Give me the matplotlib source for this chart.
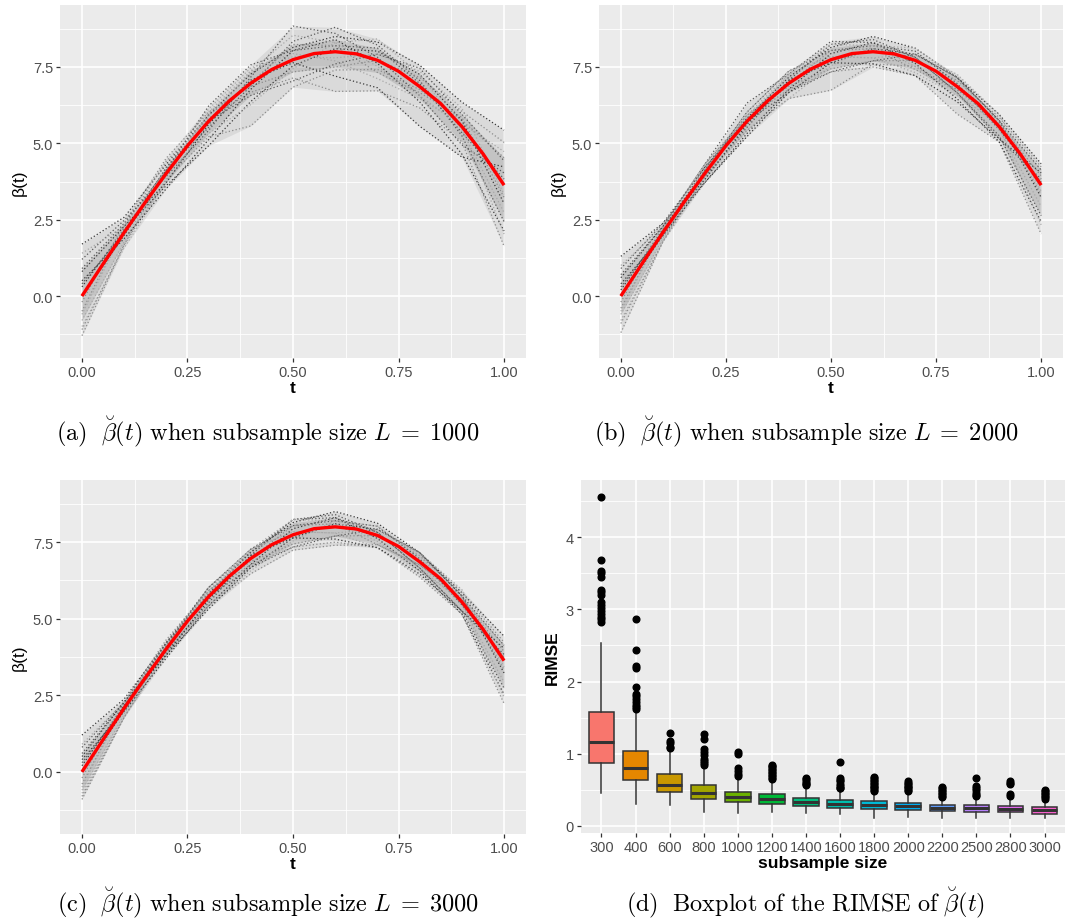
import numpy as np
import matplotlib
matplotlib.use("Agg")
import matplotlib.pyplot as plt
from matplotlib.ticker import FixedLocator

plt.rcParams['font.family'] = ['Liberation Sans', 'DejaVu Sans']
plt.rcParams['mathtext.fontset'] = 'cm'

# ---------------- data ----------------
t_fine = [0.00, 0.05, 0.10, 0.15, 0.20, 0.25, 0.30, 0.35, 0.40, 0.45, 0.50,
          0.55, 0.60, 0.65, 0.70, 0.75, 0.80, 0.85, 0.90, 0.95, 1.00]
beta_true = [0.00, 1.05, 2.08, 3.07, 4.02, 4.92, 5.72, 6.40, 6.97, 7.42, 7.74,
             7.94, 8.00, 7.93, 7.72, 7.36, 6.86, 6.30, 5.55, 4.66, 3.63]

t_coarse = [0.0, 0.1, 0.2, 0.3, 0.4, 0.5, 0.6, 0.7, 0.8, 0.9, 1.0]
beta_coarse = [0.00, 2.08, 4.02, 5.72, 6.97, 7.74, 8.00, 7.72, 6.86, 5.55, 3.63]

# deviations of the estimated curves from the true curve (read by eye)
dev_L1000 = [
    [ 1.7, 0.5, 0.3, 0.2, 0.3, 0.4, 0.5, 0.6, 0.7, 0.8, 1.8],
    [-1.3,-0.4,-0.2,-0.5,-1.4,-0.9,-0.6,-0.3,-0.1, 0.2, 0.9],
    [ 0.9, 0.3, 0.1,-0.2,-0.1, 0.6, 0.8, 0.5, 0.2,-0.3,-1.2],
    [-0.8,-0.3, 0.2, 0.4, 0.5, 0.2,-0.3,-0.6,-0.4, 0.1, 1.1],
    [ 0.3, 0.1,-0.4,-0.8,-0.6,-0.2, 0.1, 0.3, 0.4, 0.2,-0.6],
    [-0.5, 0.2, 0.4, 0.1,-0.3,-0.6,-1.3,-1.0,-0.7,-0.5,-2.0],
    [ 1.2, 0.4,-0.1,-0.3, 0.2, 1.1, 0.6, 0.1,-0.3,-0.6, 0.4],
    [-1.0,-0.5,-0.3, 0.0, 0.4, 0.1,-0.2, 0.2, 0.5, 0.6,-0.3],
    [ 0.5,-0.2,-0.5,-0.6,-0.2, 0.3, 0.4,-0.1,-0.5,-0.9,-1.5],
    [-0.2, 0.3, 0.5, 0.3,-0.1,-0.4,-0.5, 0.0, 0.3, 0.5, 1.4],
    [ 0.0,-0.1, 0.1, 0.5, 0.6, 0.3, 0.2, 0.4, 0.1,-0.2, 0.2],
    [-0.6, 0.1, 0.0,-0.4,-0.7,-0.3, 0.3, 0.7, 0.4,-0.1,-0.9],
    [ 0.8, 0.2,-0.3,-0.1, 0.1,-0.1,-0.8,-0.9,-1.3,-1.0, 0.6],
    [-1.1,-0.4, 0.1, 0.2, 0.0, 0.5, 0.2,-0.4,-0.2, 0.3,-0.4],
    [ 0.4, 0.0, 0.2, 0.0,-0.4,-0.7,-0.4, 0.2, 0.6, 0.4, 0.8],
    [ 1.4, 0.2,-0.1, 0.3, 0.4, 0.8, 0.3,-0.2,-0.3, 0.0,-1.6],
]
dev_L2000 = [
    [ 1.3, 0.3, 0.2, 0.1, 0.2, 0.4, 0.5, 0.4, 0.3, 0.4, 0.7],
    [-1.2,-0.3,-0.1,-0.3,-0.5,-1.0,-0.4,-0.2,-0.1, 0.1, 0.3],
    [ 0.7, 0.2, 0.3, 0.6, 0.3, 0.6, 0.3, 0.1,-0.2,-0.3,-1.0],
    [-0.6,-0.2, 0.1, 0.3, 0.4, 0.1,-0.2,-0.4,-0.3, 0.1, 0.5],
    [ 0.2, 0.1,-0.3,-0.5,-0.3,-0.1, 0.1, 0.2, 0.3, 0.2,-0.4],
    [-0.4, 0.1, 0.3, 0.1,-0.2,-0.4,-0.5,-0.5,-0.9,-0.5,-1.6],
    [ 0.9, 0.3,-0.1,-0.2, 0.1, 0.5, 0.4, 0.1,-0.2,-0.4, 0.2],
    [-0.8,-0.3,-0.2, 0.0, 0.3, 0.1,-0.2, 0.2, 0.4, 0.4,-0.2],
    [ 0.4,-0.1,-0.3,-0.4,-0.2, 0.2, 0.3,-0.1,-0.4,-0.5,-1.2],
    [-0.2, 0.2, 0.3, 0.2,-0.1,-0.3,-0.3, 0.0, 0.2, 0.3, 0.6],
    [ 0.0,-0.1, 0.1, 0.3, 0.4, 0.3, 0.2, 0.3, 0.1,-0.1, 0.1],
    [-0.5, 0.1, 0.0,-0.3,-0.5,-0.2, 0.2, 0.4, 0.3,-0.1,-0.7],
    [ 0.6, 0.2,-0.2,-0.1, 0.1,-0.1,-0.4,-0.5,-0.5,-0.4, 0.4],
    [-0.9,-0.3, 0.1, 0.2, 0.0, 0.3, 0.1,-0.3,-0.1, 0.2,-0.3],
    [ 0.3, 0.0, 0.2, 0.0,-0.3,-0.4,-0.3, 0.2, 0.3, 0.2, 0.5],
    [ 1.0, 0.2,-0.1, 0.2, 0.3, 0.5, 0.2,-0.2,-0.2, 0.0,-1.3],
]
dev_L3000 = [
    [ 1.2, 0.3, 0.2, 0.1, 0.2, 0.4, 0.5, 0.4, 0.3, 0.3, 0.8],
    [-0.9,-0.3,-0.1,-0.3,-0.5,-0.5,-0.6,-0.3,-0.1, 0.1, 0.3],
    [ 0.6, 0.2, 0.2, 0.3, 0.2, 0.5, 0.3, 0.1,-0.2,-0.3,-0.9],
    [-0.6,-0.2, 0.1, 0.3, 0.3, 0.1,-0.2,-0.4,-0.3, 0.1, 0.5],
    [ 0.2, 0.1,-0.2,-0.4,-0.3,-0.1, 0.1, 0.2, 0.3, 0.2,-0.4],
    [-0.4, 0.1, 0.2, 0.1,-0.2,-0.4,-0.5,-0.4,-0.5,-0.4,-1.4],
    [ 0.8, 0.2,-0.1,-0.2, 0.1, 0.5, 0.4, 0.1,-0.2,-0.3, 0.2],
    [-0.7,-0.3,-0.2, 0.0, 0.3, 0.1,-0.2, 0.2, 0.3, 0.4,-0.2],
    [ 0.4,-0.1,-0.3,-0.3,-0.2, 0.2, 0.3,-0.1,-0.3,-0.4,-1.1],
    [-0.2, 0.2, 0.3, 0.2,-0.1,-0.3,-0.3, 0.0, 0.2, 0.3, 0.6],
    [ 0.0,-0.1, 0.1, 0.3, 0.3, 0.3, 0.2, 0.3, 0.1,-0.1, 0.1],
    [-0.5, 0.1, 0.0,-0.3,-0.4,-0.2, 0.2, 0.3, 0.2,-0.1,-0.7],
    [ 0.5, 0.2,-0.2,-0.1, 0.1,-0.1,-0.4,-0.4,-0.4,-0.3, 0.4],
    [-0.8,-0.3, 0.1, 0.2, 0.0, 0.3, 0.1,-0.3,-0.1, 0.2,-0.3],
    [ 0.3, 0.0, 0.2, 0.0,-0.3,-0.4,-0.3, 0.2, 0.3, 0.2, 0.5],
    [ 0.9, 0.2,-0.1, 0.2, 0.3, 0.5, 0.2,-0.2,-0.2, 0.0,-1.2],
]

sizes = ['300', '400', '600', '800', '1000', '1200', '1400', '1600',
         '1800', '2000', '2200', '2500', '2800', '3000']
q1 = [0.87, 0.64, 0.47, 0.38, 0.33, 0.30, 0.27, 0.255, 0.23, 0.215, 0.205, 0.20, 0.19, 0.17]
med = [1.165, 0.805, 0.57, 0.46, 0.405, 0.37, 0.33, 0.31, 0.285, 0.275, 0.25, 0.25, 0.24, 0.22]
q3 = [1.58, 1.035, 0.725, 0.57, 0.47, 0.445, 0.39, 0.365, 0.34, 0.325, 0.295, 0.29, 0.28, 0.26]
whis_lo = [0.46, 0.30, 0.29, 0.19, 0.18, 0.19, 0.18, 0.17, 0.115, 0.125, 0.105, 0.11, 0.11, 0.105]
whis_hi = [2.53, 1.57, 1.06, 0.81, 0.65, 0.62, 0.555, 0.51, 0.46, 0.45, 0.37, 0.38, 0.38, 0.33]
outliers = [
    [4.56, 3.68, 3.53, 3.50, 3.45, 3.27, 3.24, 3.20, 3.10, 3.06, 3.02, 2.98, 2.94, 2.90, 2.86, 2.83],
    [2.86, 2.43, 2.21, 2.19, 1.92, 1.83, 1.80, 1.76, 1.72, 1.68, 1.65, 1.62],
    [1.29, 1.18, 1.15, 1.10, 1.08],
    [1.28, 1.20, 1.06, 1.02, 0.98, 0.93, 0.90, 0.87, 0.85],
    [1.02, 1.00, 0.80, 0.76, 0.72, 0.69],
    [0.85, 0.83, 0.81, 0.79, 0.77, 0.75, 0.73, 0.71, 0.69, 0.67, 0.65],
    [0.67, 0.65, 0.62, 0.60, 0.58, 0.57],
    [0.89, 0.66, 0.64, 0.62, 0.58, 0.55, 0.53, 0.52],
    [0.68, 0.66, 0.64, 0.62, 0.60, 0.58, 0.56, 0.54, 0.52, 0.50, 0.48],
    [0.62, 0.60, 0.58, 0.56, 0.54, 0.52, 0.50, 0.48],
    [0.54, 0.52, 0.50, 0.48, 0.46, 0.44, 0.42, 0.40],
    [0.66, 0.55, 0.52, 0.50, 0.46, 0.43, 0.41],
    [0.62, 0.60, 0.58, 0.44, 0.42],
    [0.50, 0.48, 0.46, 0.44, 0.42, 0.40, 0.38],
]
box_colors = ['#F8766D', '#E58700', '#C99800', '#A3A500', '#6BB100', '#00BA38', '#00BF7D',
              '#00C0AF', '#00BCD8', '#00B0F6', '#619CFF', '#B983FF', '#E76BF3', '#FD61D1']

# ---------------- figure ----------------
W, H = 1065, 920
fig = plt.figure(figsize=(W / 100, H / 100), dpi=100)


def px_axes(x0, y0, x1, y1):
    return fig.add_axes([x0 / W, 1 - y1 / H, (x1 - x0) / W, (y1 - y0) / H])


def gg_style(ax):
    ax.set_facecolor('#EBEBEB')
    for s in ax.spines.values():
        s.set_visible(False)
    ax.set_axisbelow(True)
    ax.grid(True, which='major', color='white', lw=1.2)
    ax.grid(True, which='minor', color='white', lw=0.6)
    ax.tick_params(which='major', length=3, width=0.9, color='#333333',
                   labelcolor='#4D4D4D', labelsize=10.5, pad=2)
    ax.tick_params(which='minor', length=0)


curve_colors = ['#3A3A3A', '#8C8C8C', '#5A5A5A', '#A8A8A8']


def curve_panel(ax, devs):
    gg_style(ax)
    curves = np.array([[b + e for b, e in zip(beta_coarse, d)] for d in devs])
    lo, hi = curves.min(axis=0), curves.max(axis=0)
    p_lo, p_hi = np.percentile(curves, 20, axis=0), np.percentile(curves, 80, axis=0)
    ax.fill_between(t_coarse, lo, hi, color='#A0A0A0', alpha=0.22, lw=0)
    ax.fill_between(t_coarse, p_lo, p_hi, color='#808080', alpha=0.25, lw=0)
    for i, c in enumerate(curves):
        ax.plot(t_coarse, c, color=curve_colors[i % len(curve_colors)], lw=0.9,
                linestyle=(0, (1, 1.8)))
    ax.plot(t_fine, beta_true, color='#FF0000', lw=2.4, solid_capstyle='butt',
            solid_joinstyle='round')
    ax.set_xlim(-0.052, 1.052)
    ax.set_ylim(-2.03, 9.53)
    ax.xaxis.set_major_locator(FixedLocator([0, 0.25, 0.5, 0.75, 1.0]))
    ax.xaxis.set_minor_locator(FixedLocator([0.125, 0.375, 0.625, 0.875]))
    ax.yaxis.set_major_locator(FixedLocator([0, 2.5, 5.0, 7.5]))
    ax.yaxis.set_minor_locator(FixedLocator([-1.25, 1.25, 3.75, 6.25, 8.75]))
    ax.set_xticklabels(['0.00', '0.25', '0.50', '0.75', '1.00'])
    ax.set_yticklabels(['0.0', '2.5', '5.0', '7.5'])
    ax.set_xlabel('t', fontsize=12.5, fontweight='bold', labelpad=1)
    ax.set_ylabel('β(t)', fontsize=12.5, labelpad=4)


axA = px_axes(60, 6, 526, 359)
curve_panel(axA, dev_L1000)
axB = px_axes(599, 6, 1063, 359)
curve_panel(axB, dev_L2000)
axC = px_axes(60, 481, 526, 835)
curve_panel(axC, dev_L3000)

# boxplot panel
axD = px_axes(581, 481, 1065, 834)
gg_style(axD)
stats = []
for i in range(len(sizes)):
    stats.append(dict(med=med[i], q1=q1[i], q3=q3[i], whislo=whis_lo[i],
                      whishi=whis_hi[i], fliers=outliers[i], label=sizes[i]))
pos = list(range(1, len(sizes) + 1))
bp = axD.bxp(stats, positions=pos, widths=0.75, patch_artist=True, showcaps=False,
             boxprops=dict(edgecolor='#333333', lw=1.1),
             medianprops=dict(color='#333333', lw=2.2),
             whiskerprops=dict(color='#333333', lw=1.1),
             flierprops=dict(marker='o', markerfacecolor='black', markeredgecolor='black',
                             markersize=4.8, linestyle='none'))
for patch, c in zip(bp['boxes'], box_colors):
    patch.set_facecolor(c)
axD.set_xlim(0.4, 14.6)
axD.set_ylim(-0.097, 4.79)
axD.xaxis.set_major_locator(FixedLocator(pos))
axD.set_xticklabels(sizes)
axD.yaxis.set_major_locator(FixedLocator([0, 1, 2, 3, 4]))
axD.yaxis.set_minor_locator(FixedLocator([0.5, 1.5, 2.5, 3.5, 4.5]))
axD.set_yticklabels(['0', '1', '2', '3', '4'])
axD.grid(False, axis='x', which='minor')
axD.set_xlabel('subsample size', fontsize=12.5, fontweight='bold', labelpad=1)
axD.set_ylabel('RIMSE', fontsize=12.5, fontweight='bold', labelpad=4)

# captions
cap_kw = dict(ha='center', va='center', fontsize=17.5, color='black')
fig.text(268 / W, 1 - 432 / H,
         r'$\mathrm{(a)}\ \ \breve{\beta}(t)\ \mathrm{when\ subsample\ size}\ L\;=\;1000$', **cap_kw)
fig.text(806 / W, 1 - 432 / H,
         r'$\mathrm{(b)}\ \ \breve{\beta}(t)\ \mathrm{when\ subsample\ size}\ L\;=\;2000$', **cap_kw)
fig.text(268 / W, 1 - 903 / H,
         r'$\mathrm{(c)}\ \ \breve{\beta}(t)\ \mathrm{when\ subsample\ size}\ L\;=\;3000$', **cap_kw)
fig.text(805 / W, 1 - 903 / H,
         r'$\mathrm{(d)}\ \ \mathrm{Boxplot\ of\ the\ RIMSE\ of}\ \breve{\beta}(t)$', **cap_kw)

fig.savefig('out.png', dpi=100)
